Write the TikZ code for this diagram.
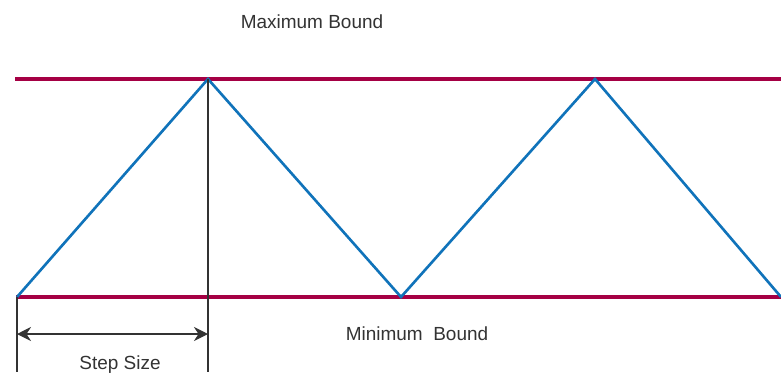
\documentclass[tikz,border=0pt]{standalone}
\usepackage{fontspec}
\setmainfont{Liberation Sans}
\usetikzlibrary{arrows.meta, positioning}

\definecolor{boundred}{RGB}{165,0,68}
\definecolor{waveblue}{RGB}{16,115,186}

\begin{document}
\begin{tikzpicture}[
    >=Stealth,
    bound/.style={draw=boundred, line width=2.4pt},
    wave/.style={draw=waveblue, line width=1.5pt},
    guide/.style={draw=black!80, line width=0.7pt},
    lbl/.style={font=\fontsize{10.8}{13}\selectfont, text=black!80, inner sep=0pt}
  ]
    \useasboundingbox (0,0) rectangle (15.62,7.44);

    % bounds
    \coordinate (topL) at (0.30,5.86);
    \coordinate (topR) at (15.62,5.86);
    \coordinate (botL) at (0.32,1.50);
    \coordinate (botR) at (15.62,1.50);
    \draw[bound] (topL) -- (topR);
    \draw[bound] (botL) -- (botR);

    % zigzag
    \coordinate (v0) at (0.34,1.50);
    \coordinate (p1) at (4.16,5.86);
    \coordinate (v1) at (8.02,1.50);
    \coordinate (p2) at (11.90,5.86);
    \coordinate (v2) at (15.62,1.50);
    \draw[wave] (v0) -- (p1) -- (v1) -- (p2) -- (v2);

    % step size marker
    \coordinate (g0) at (0.34,0);
    \coordinate (g1) at (4.16,0);
    \draw[guide] (v0) -- (g0);
    \draw[guide] (p1) -- (g1);
    \coordinate (a0) at (0.34,0.76);
    \coordinate (a1) at (4.16,0.76);
    \draw[guide, <->, >={Stealth[length=8pt,width=8pt]}] (a0) -- (a1);

    \node[lbl] (step) at (2.40,0.14) {Step Size};
    \node[lbl] (maxb) at (6.24,7.00) {Maximum Bound};
    \node[lbl] (minb) at (8.34,0.76) {Minimum\ \ Bound};
  \end{tikzpicture}
\end{document}
